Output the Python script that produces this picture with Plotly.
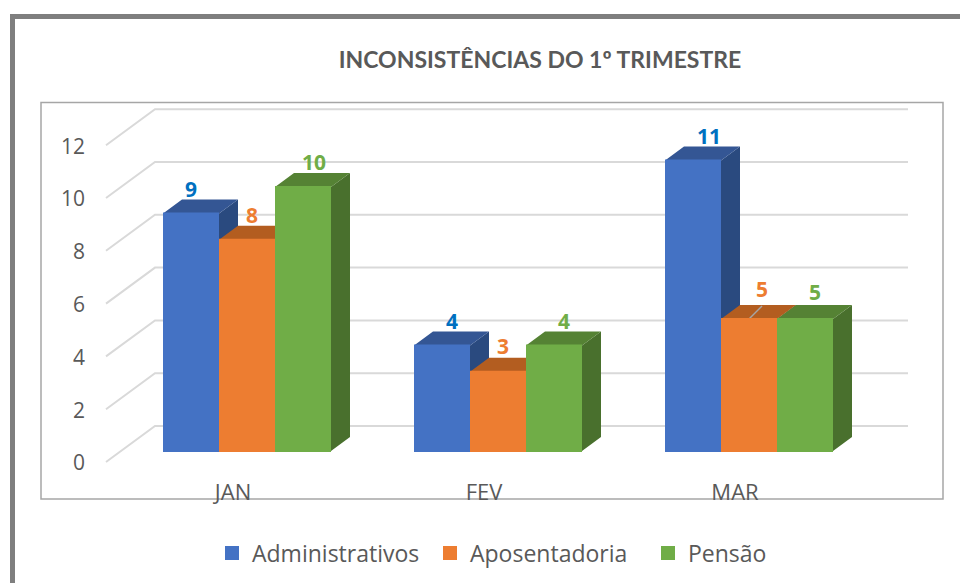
import plotly.graph_objects as go

# ---- data ----
months = ["JAN", "FEV", "MAR"]
administrativos = [9, 4, 11]
aposentadoria = [8, 3, 5]
pensao = [10, 4, 5]
y_ticks = [0, 2, 4, 6, 8, 10, 12]

title_text = "INCONSISTÊNCIAS DO 1º TRIMESTRE"
series = [
    ("Administrativos", administrativos, "#4472C4", "#2A4A7F", "#345694", "#0070C0"),
    ("Aposentadoria", aposentadoria, "#ED7D31", "#AD5A20", "#B35D20", "#ED7D31"),
    ("Pensão", pensao, "#70AD47", "#49702D", "#558234", "#70AD47"),
]

# ---- geometry: scales of the axes (pixels per data unit) ----
W, H = 960, 583
PX_X, PX_Y = 251.0, 26.4
X0_PX, Y0_PX = 247.0, 451.0
def ux(px): return px / PX_X
def uy(px): return px / PX_Y
x_range = [-X0_PX / PX_X, (W - X0_PX) / PX_X]
y_range = [-(H - Y0_PX) / PX_Y, Y0_PX / PX_Y]

slot = ux(56)
depth_x, depth_y = ux(19), uy(14)
# label nudges (px) from the centre-top of each front face
nudge_x = [[0, 10, 16], [5, 5, 13], [11, 10, 10]]
nudge_y = [[22, 22, 22], [22, 23, 27], [22, 22, 24]]

fig = go.Figure()

# back wall gridlines and their diagonal floor returns
gx, gy = [], []
for t in y_ticks:
    gx += [ux(106 - X0_PX), ux(155 - X0_PX), ux(908 - X0_PX), None]
    gy += [t - uy(11), t + uy(25), t + uy(25), None]
fig.add_trace(go.Scatter(x=gx, y=gy, mode="lines", line=dict(color="#D9D9D9", width=2),
                         showlegend=False, hoverinfo="skip"))

# depth faces
for i, (name, vals, front, side, top, lab) in enumerate(series):
    sx, sy, tx, ty = [], [], [], []
    for c, v in enumerate(vals):
        left = c + (i - 1.5) * slot
        right = left + slot
        sx += [right, right + depth_x, right + depth_x, right, right, None]
        sy += [0, depth_y, v + depth_y, v, 0, None]
        tx += [left, right, right + depth_x, left + depth_x, left, None]
        ty += [v, v, v + depth_y, v + depth_y, v, None]
    fig.add_trace(go.Scatter(x=sx, y=sy, mode="lines", fill="toself", fillcolor=side,
                             line=dict(width=0), showlegend=False, hoverinfo="skip"))
    fig.add_trace(go.Scatter(x=tx, y=ty, mode="lines", fill="toself", fillcolor=top,
                             line=dict(width=0), showlegend=False, hoverinfo="skip"))

# leader line of the March "Aposentadoria" label
c = 2
fig.add_trace(go.Scatter(x=[c, c + ux(13)],
                         y=[aposentadoria[c], aposentadoria[c] + uy(13)],
                         mode="lines", line=dict(color="#A6A6A6", width=1.5),
                         showlegend=False, hoverinfo="skip"))

# front faces, on the overlay axes so they sit over the depth faces
for i, (name, vals, front, side, top, lab) in enumerate(series):
    fig.add_trace(go.Bar(name=name, x=list(range(len(months))), y=vals, xaxis="x2", yaxis="y2",
                         marker=dict(color=front, line=dict(color=front, width=2)),
                         hovertemplate=name + ": %{y}<extra></extra>"))

# value labels
for i, (name, vals, front, side, top, lab) in enumerate(series):
    xs = [c + (i - 1) * slot + ux(nudge_x[i][c]) for c in range(len(vals))]
    ys = [v + uy(nudge_y[i][c]) for c, v in enumerate(vals)]
    fig.add_trace(go.Scatter(x=xs, y=ys, mode="text", text=[str(v) for v in vals],
                             textposition="middle center", xaxis="x2", yaxis="y2",
                             textfont=dict(family="Open Sans", size=21, color=lab, weight="bold"),
                             showlegend=False, hoverinfo="skip"))

axis_font = dict(family="Open Sans", size=21, color="#595959")
fig.update_layout(
    width=W, height=H,
    margin=dict(l=0, r=0, t=0, b=0),
    paper_bgcolor="white", plot_bgcolor="rgba(0,0,0,0)",
    barmode="group", bargap=1 - 3 * slot, bargroupgap=2 / 56,
    title=dict(text=title_text, x=540 / W, xanchor="center", y=1 - 60 / H, yanchor="middle",
               font=dict(family="Lato", size=23, color="#595959", weight="bold")),
    xaxis=dict(range=x_range, domain=[0, 1], anchor="free", position=1 - 476.5 / H,
               tickmode="array", tickvals=[0, 1, 2], ticktext=months, ticklabelshift=-14,
               showgrid=False, zeroline=False, showline=False, ticks="",
               tickfont=dict(family="Open Sans", size=22, color="#595959")),
    yaxis=dict(range=y_range, domain=[0, 1], anchor="free", position=85 / W,
               tickmode="array", tickvals=y_ticks, ticklabelshift=12,
               showgrid=False, zeroline=False, showline=False, ticks="",
               tickfont=axis_font),
    xaxis2=dict(range=x_range, overlaying="x", visible=False, anchor="y2"),
    yaxis2=dict(range=y_range, overlaying="y", visible=False, anchor="x2"),
    legend=dict(orientation="h", x=212 / W, xanchor="left", y=1 - 553 / H, yanchor="middle",
                font=dict(family="Open Sans", size=23, color="#595959"),
                entrywidth=173, entrywidthmode="pixels",
                bgcolor="rgba(0,0,0,0)", traceorder="normal"),
    shapes=[
        dict(type="rect", xref="paper", yref="paper", layer="below",
             x0=12.5 / W, x1=1.02, y0=-0.02, y1=1 - 16.5 / H,
             line=dict(color="#7F7F7F", width=5), fillcolor="white"),
        dict(type="rect", xref="paper", yref="paper", layer="below",
             x0=41 / W, x1=943 / W, y0=1 - 499 / H, y1=1 - 102.5 / H,
             line=dict(color="#A6A6A6", width=1.5), fillcolor="white"),
    ],
)

fig.write_html("out.html", config=dict(displayModeBar=False),
               post_script="document.body.style.margin='0';document.body.style.overflow='hidden';")
